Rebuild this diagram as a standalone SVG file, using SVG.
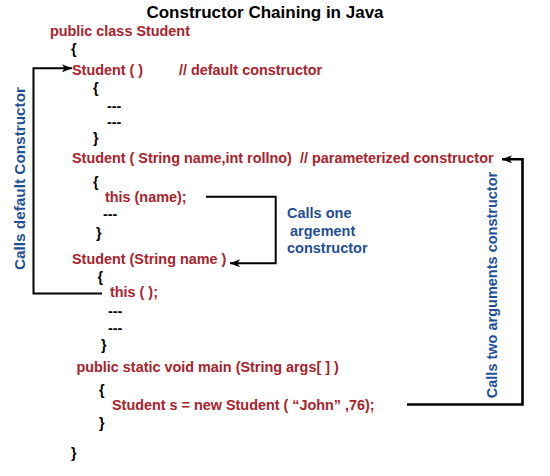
<svg xmlns="http://www.w3.org/2000/svg" width="550" height="476" viewBox="0 0 550 476">
<style>
text{font-family:"Liberation Sans",Arial,sans-serif;font-weight:bold}
.t{font-size:17px;fill:#000}
.c{font-size:14.4px;fill:#a8232b}
.b{font-size:14.4px;fill:#000}
.l{font-size:14.5px;fill:#1f4f96}
.w{fill:none;stroke:#000;stroke-width:2;stroke-linejoin:miter}
</style>
<defs>
<marker id="ah" viewBox="0 0 10 8" refX="10" refY="4" markerWidth="10" markerHeight="8" markerUnits="userSpaceOnUse" orient="auto">
<path d="M0,0 L10,4 L0,8 L2.5,4 z" fill="#000"/>
</marker>
</defs>
<rect width="550" height="476" fill="#fff"/>
<text id="title" class="t" x="265" y="17.5" text-anchor="middle">Constructor Chaining in Java</text>
<g id="code">
<text class="c" x="50" y="36">public class Student</text>
<text class="b" x="71" y="54">{</text>
<text class="c" x="72" y="75">Student ( )</text>
<text class="c" x="179" y="75">// default constructor</text>
<text class="b" x="93" y="93">{</text>
<text class="b" x="107" y="111">---</text>
<text class="b" x="107" y="127">---</text>
<text class="b" x="93" y="143">}</text>
<text class="c" x="72" y="163">Student ( String name,int rollno)</text>
<text class="c" x="300" y="163">// parameterized constructor</text>
<text class="b" x="93" y="187">{</text>
<text class="c" x="105" y="201.5">this (name);</text>
<text class="b" x="103" y="219">---</text>
<text class="b" x="96" y="238">}</text>
<text class="c" x="72" y="263.5">Student (String name )</text>
<text class="b" x="97.5" y="281.5">{</text>
<text class="c" x="110" y="297">this ( );</text>
<text class="b" x="108" y="315.5">---</text>
<text class="b" x="108" y="333">---</text>
<text class="b" x="101" y="350">}</text>
<text class="c" x="76.5" y="371.5">public static void main (String args[ ] )</text>
<text class="b" x="99" y="395">{</text>
<text class="c" x="112" y="410">Student s = new Student ( “John” ,76);</text>
<text class="b" x="99" y="428">}</text>
<text class="b" x="71" y="458">}</text>
</g>
<g id="labels">
<text class="l" transform="translate(24.5,178.5) rotate(-90)" text-anchor="middle" textLength="183" lengthAdjust="spacingAndGlyphs">Calls default Constructor</text>
<text class="l" transform="translate(496.5,285) rotate(-90)" text-anchor="middle">Calls two arguments constructor</text>
<text class="l" x="287" y="218">Calls one</text>
<text class="l" x="290" y="235.5">argement</text>
<text class="l" x="287" y="252.5">constructor</text>
</g>
<g id="connectors">
<path class="w" d="M102,293.5 H33.5 V68.3 H72" marker-end="url(#ah)"/>
<path class="w" d="M206,196.7 H275.7 V263.3 H230" marker-end="url(#ah)"/>
<path class="w" style="stroke-width:2.6" d="M407,404.5 H522.5 V159.3 H502" marker-end="url(#ah)"/>
</g>
</svg>
